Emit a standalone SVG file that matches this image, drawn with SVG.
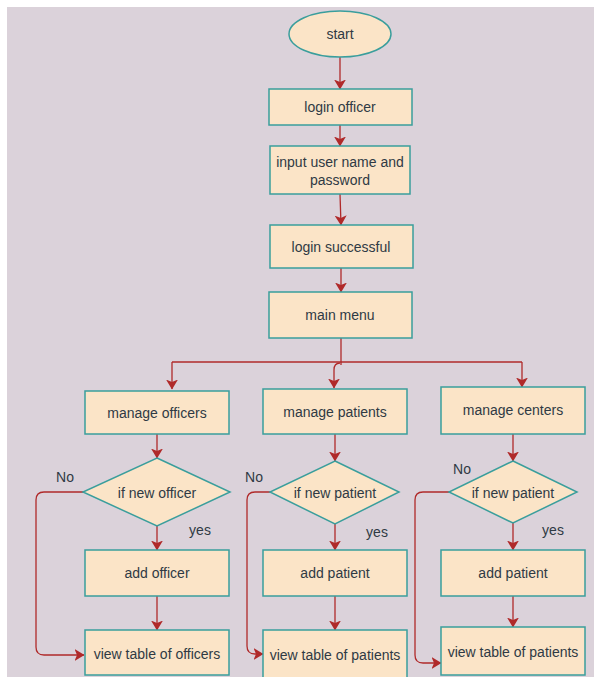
<svg xmlns="http://www.w3.org/2000/svg" width="594" height="677" viewBox="0 0 594 677">
<defs>
<marker id="ah" viewBox="0 0 10 12" refX="9.5" refY="6" markerWidth="10" markerHeight="12" markerUnits="userSpaceOnUse" orient="auto">
<path d="M0,0 L10,6 L0,12 L2.5,6 Z" fill="#b02a2a"/>
</marker>
<style>
.n{fill:#fbe4c7;stroke:#3a9e9c;stroke-width:1.5}
.t{font-family:"Liberation Sans",Arial,sans-serif;font-size:14px;fill:#2f3a44;text-anchor:middle;dominant-baseline:central}
.l{font-family:"Liberation Sans",Arial,sans-serif;font-size:14px;fill:#2f3a44;text-anchor:middle;dominant-baseline:central}
.c{fill:none;stroke:#b02a2a;stroke-width:1.3;marker-end:url(#ah)}
.p{fill:none;stroke:#b02a2a;stroke-width:1.3}
</style>
</defs>
<rect x="0" y="0" width="594" height="677" fill="#ffffff"/>
<rect x="7" y="7" width="587" height="670" fill="#dbd2da"/>

<g id="connectors">
<path class="c" d="M340,57 V89"/>
<path class="c" d="M340,125 V146"/>
<path class="c" d="M340,194 L341,225"/>
<path class="c" d="M341,268 V292"/>
<path class="p" d="M341,338 V365"/>
<path class="p" d="M172,362 H522"/>
<path class="c" d="M172,362 V389"/>
<path class="c" d="M340,363 Q334,363 334,370 V388"/>
<path class="c" d="M522,362 V387"/>
<path class="c" d="M157,434 V458"/>
<path class="c" d="M157,526 V550"/>
<path class="c" d="M157,596 V630"/>
<path class="c" d="M83,492 H44 Q36,492 36,500 V647 Q36,655 44,655 H84"/>
<path class="c" d="M335,434 V461"/>
<path class="c" d="M335,524 V550"/>
<path class="c" d="M335,596 V630"/>
<path class="c" d="M270,492 H255 Q247,492 247,500 V646 Q247,654 255,654 H263"/>
<path class="c" d="M513,434 V461"/>
<path class="c" d="M513,523 V550"/>
<path class="c" d="M513,596 V627"/>
<path class="c" d="M449,492 H423 Q415,492 415,500 V655 Q415,663 423,663 H441"/>
<text class="l" x="65" y="477">No</text>
<text class="l" x="200" y="530">yes</text>
<text class="l" x="254" y="477">No</text>
<text class="l" x="377" y="532">yes</text>
<text class="l" x="462" y="469">No</text>
<text class="l" x="553" y="530">yes</text>
</g>

<g id="start"><ellipse class="n" cx="340" cy="34" rx="51" ry="23"/><text class="t" x="340" y="34">start</text></g>
<g id="login-officer"><rect class="n" x="269" y="89" width="143" height="36"/><text class="t" x="340" y="107">login officer</text></g>
<g id="input"><rect class="n" x="270" y="146" width="140" height="48"/><text class="t" x="340" y="162">input user name and</text><text class="t" x="340" y="180">password</text></g>
<g id="login-successful"><rect class="n" x="270" y="225" width="143" height="43"/><text class="t" x="341" y="247">login successful</text></g>
<g id="main-menu"><rect class="n" x="269" y="292" width="143" height="46"/><text class="t" x="340" y="315">main menu</text></g>

<g id="manage-officers"><rect class="n" x="85" y="391" width="144" height="43"/><text class="t" x="157" y="413">manage officers</text></g>
<g id="if-new-officer"><polygon class="n" points="157,458 230,492 157,526 83,492"/><text class="t" x="157" y="493">if new officer</text></g>
<g id="add-officer"><rect class="n" x="85" y="550" width="144" height="46"/><text class="t" x="157" y="573">add officer</text></g>
<g id="view-officers"><rect class="n" x="85" y="630" width="144" height="45"/><text class="t" x="157" y="654">view table of officers</text></g>

<g id="manage-patients"><rect class="n" x="263" y="389" width="144" height="45"/><text class="t" x="335" y="412">manage patients</text></g>
<g id="if-new-patient-1"><polygon class="n" points="335,461 399,492 335,524 270,492"/><text class="t" x="335" y="493">if new patient</text></g>
<g id="add-patient-1"><rect class="n" x="263" y="550" width="144" height="46"/><text class="t" x="335" y="573">add patient</text></g>
<g id="view-patients-1"><rect class="n" x="263" y="630" width="144" height="48"/><text class="t" x="335" y="655">view table of patients</text></g>

<g id="manage-centers"><rect class="n" x="441" y="387" width="144" height="47"/><text class="t" x="513" y="410">manage centers</text></g>
<g id="if-new-patient-2"><polygon class="n" points="513,461 577,492 513,523 449,492"/><text class="t" x="513" y="493">if new patient</text></g>
<g id="add-patient-2"><rect class="n" x="441" y="550" width="144" height="46"/><text class="t" x="513" y="573">add patient</text></g>
<g id="view-patients-2"><rect class="n" x="441" y="627" width="144" height="48"/><text class="t" x="513" y="652">view table of patients</text></g>
</svg>
